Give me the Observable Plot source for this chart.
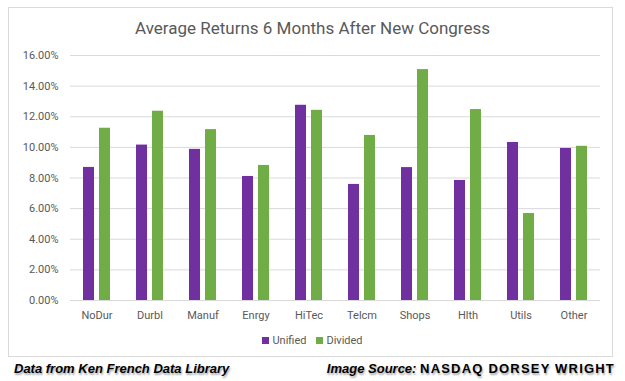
<!DOCTYPE html>
<html>
<head>
<meta charset="utf-8">
<script src="https://cdn.jsdelivr.net/npm/d3@7"></script>
<script src="https://cdn.jsdelivr.net/npm/@observablehq/plot@0.6"></script>
<style>
  html, body { margin: 0; padding: 0; background: #fff; }
  #wrap { position: relative; width: 625px; height: 381px; overflow: hidden; font-family: Roboto, "Open Sans", sans-serif; }
  #border { position: absolute; left: 8px; top: 7px; width: 605px; height: 350px; border: 1px solid #d9d9d9; box-sizing: border-box; }
  #title { position: absolute; left: 0; width: 625px; top: 18px; text-align: center; font-size: 17px; color: #595959; }
  #chart { position: absolute; left: 0; top: 0; }
  #legend { position: absolute; left: 0; width: 625px; top: 334px; text-align: center; font-size: 11px; color: #595959; }
  #legend span.sw { display: inline-block; width: 7px; height: 7px; margin-right: 3px; vertical-align: 0px; }
  #legend span.item { margin: 0 5px; }
  .foot { position: absolute; top: 361px; font-family: "Liberation Sans", Arial, sans-serif; font-size: 13px; color: #000; text-shadow: 1px 2px 2px rgba(0,0,0,0.35); white-space: nowrap; }
  #foot1 { left: 14px; font-weight: bold; font-style: italic; }
  #foot2 { right: 10px; }
  #foot2 i { font-weight: bold; font-style: italic; }
  #foot2 b { letter-spacing: 1.2px; font-size: 13px; }
</style>
</head>
<body>
<div id="wrap">
  <div id="border"></div>
  <div id="title">Average Returns 6 Months After New Congress</div>
  <div id="chart"></div>
  <div id="legend"></div>
  <div class="foot" id="foot1">Data from Ken French Data Library</div>
  <div class="foot" id="foot2"><i>Image Source:</i> <b>NASDAQ DORSEY WRIGHT</b></div>
</div>
<script>
const categories = ["NoDur","Durbl","Manuf","Enrgy","HiTec","Telcm","Shops","Hlth","Utils","Other"];
const series = ["Unified","Divided"];
const unified = [8.69,10.15,9.87,8.10,12.75,7.58,8.68,7.84,10.32,9.93];
const divided = [11.25,12.36,11.16,8.82,12.42,10.78,15.08,12.47,5.68,10.07];
const yTicks = [0,0.02,0.04,0.06,0.08,0.10,0.12,0.14,0.16];
const colors = ["#7030A0","#70AD47"];

const data = [];
categories.forEach((c, i) => {
  data.push({category: c, series: "Unified", value: unified[i] / 100});
  data.push({category: c, series: "Divided", value: divided[i] / 100});
});

const chart = Plot.plot({
  width: 625,
  height: 381,
  marginTop: 55,
  marginBottom: 81,
  marginLeft: 66,
  marginRight: 22,
  style: {fontFamily: "Roboto, 'Open Sans', sans-serif", fontSize: "11px", color: "#595959", background: "transparent"},
  fx: {domain: categories, padding: 0, label: null, axis: "bottom", tickSize: 0, tickPadding: 11},
  x: {domain: series, paddingInner: 0.294, paddingOuter: 0.726, axis: null},
  y: {domain: [0, 0.16], ticks: yTicks, tickFormat: d3.format(".2%"), label: null, tickSize: 0, tickPadding: 12, grid: false},
  color: {domain: series, range: colors},
  marks: [
    Plot.ruleY(yTicks, {stroke: "#d9d9d9", strokeWidth: 1, strokeOpacity: 1}),
    Plot.barY(data, {fx: "category", x: "series", y: "value", fill: "series"})
  ]
});
document.getElementById("chart").appendChild(chart);

const legend = document.getElementById("legend");
series.forEach((s, i) => {
  const item = document.createElement("span");
  item.className = "item";
  const sw = document.createElement("span");
  sw.className = "sw";
  sw.style.background = colors[i];
  item.appendChild(sw);
  item.appendChild(document.createTextNode(s));
  legend.appendChild(item);
});
</script>
</body>
</html>
